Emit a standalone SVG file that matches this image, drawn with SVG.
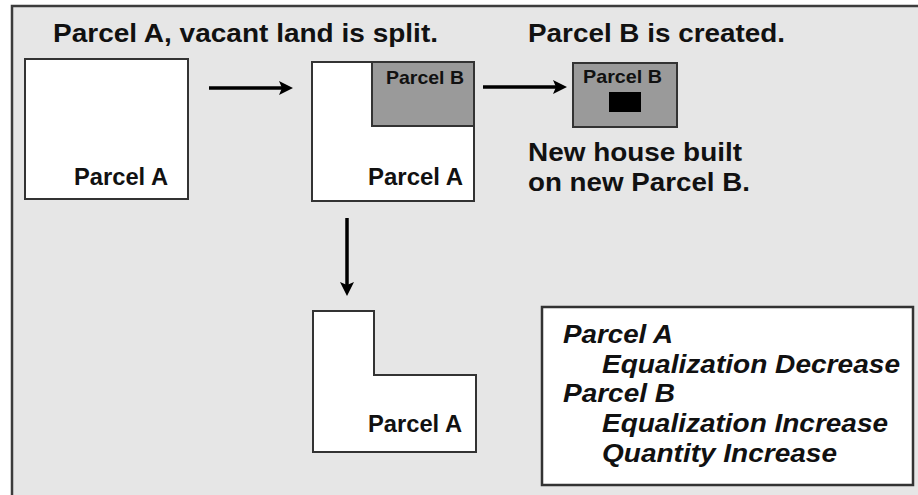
<svg xmlns="http://www.w3.org/2000/svg" width="918" height="495" viewBox="0 0 918 495">
  <style>
    .t { font-family: "Liberation Sans", Arial, sans-serif; font-weight: bold; fill: #111; }
    .ti { font-family: "Liberation Sans", Arial, sans-serif; font-weight: bold; font-style: italic; fill: #111; }
    .box { fill: #ffffff; stroke: #333333; stroke-width: 2; }
    .pb { fill: #9a9a9a; stroke: #333333; stroke-width: 2; }
    .conn { stroke: #000000; stroke-width: 3.5; fill: none; marker-end: url(#head); }
  </style>
  <defs>
    <marker id="head" markerUnits="userSpaceOnUse" markerWidth="15" markerHeight="15" refX="3" refY="7" orient="auto" viewBox="0 0 15 14">
      <path d="M0,0 L14,7 L0,14 L3,7 z" fill="#000000"/>
    </marker>
  </defs>

  <rect x="0" y="0" width="918" height="495" fill="#ffffff"/>
  <rect x="12" y="6" width="912" height="495" fill="#e6e6e6" stroke="#3c3c3c" stroke-width="2.5"/>

  <text class="t" x="53" y="42" font-size="26" textLength="385" lengthAdjust="spacingAndGlyphs">Parcel A, vacant land is split.</text>
  <text class="t" x="528" y="42" font-size="26" textLength="257" lengthAdjust="spacingAndGlyphs">Parcel B is created.</text>

  <g id="parcel-a-original">
    <rect class="box" x="25" y="59" width="163" height="140"/>
    <text class="t" x="74" y="185" font-size="23" textLength="94" lengthAdjust="spacingAndGlyphs">Parcel A</text>
  </g>

  <g id="parcel-a-split">
    <rect class="box" x="312" y="62" width="162" height="139"/>
    <rect class="pb" x="372" y="62" width="102" height="64"/>
    <text class="t" x="386" y="84" font-size="19" textLength="78" lengthAdjust="spacingAndGlyphs">Parcel B</text>
    <text class="t" x="368" y="185" font-size="23" textLength="95" lengthAdjust="spacingAndGlyphs">Parcel A</text>
  </g>

  <g id="parcel-b-new">
    <rect class="pb" x="573" y="63" width="104" height="64"/>
    <text class="t" x="583" y="83" font-size="19" textLength="79" lengthAdjust="spacingAndGlyphs">Parcel B</text>
    <rect x="609" y="92" width="32" height="20" fill="#000000"/>
    <text class="t" x="528" y="161" font-size="25" textLength="214" lengthAdjust="spacingAndGlyphs">New house built</text>
    <text class="t" x="528" y="191" font-size="25" textLength="222" lengthAdjust="spacingAndGlyphs">on new Parcel B.</text>
  </g>

  <g id="parcel-a-remaining">
    <path class="box" d="M313,311 L374,311 L374,375 L476,375 L476,452 L313,452 Z"/>
    <text class="t" x="368" y="432" font-size="23" textLength="94" lengthAdjust="spacingAndGlyphs">Parcel A</text>
  </g>

  <g id="legend">
    <rect x="542" y="307" width="371" height="178" fill="#ffffff" stroke="#333333" stroke-width="2.5"/>
    <text class="ti" x="563" y="343" font-size="25" textLength="110" lengthAdjust="spacingAndGlyphs">Parcel A</text>
    <text class="ti" x="602" y="373" font-size="25" textLength="298" lengthAdjust="spacingAndGlyphs">Equalization Decrease</text>
    <text class="ti" x="563" y="402" font-size="25" textLength="112" lengthAdjust="spacingAndGlyphs">Parcel B</text>
    <text class="ti" x="602" y="432" font-size="25" textLength="286" lengthAdjust="spacingAndGlyphs">Equalization Increase</text>
    <text class="ti" x="602" y="462" font-size="25" textLength="235" lengthAdjust="spacingAndGlyphs">Quantity Increase</text>
  </g>

  <g id="connectors">
    <line class="conn" x1="209" y1="88" x2="282" y2="88"/>
    <line class="conn" x1="483" y1="87" x2="556" y2="87"/>
    <line class="conn" x1="347" y1="218" x2="347" y2="285"/>
  </g>
</svg>
